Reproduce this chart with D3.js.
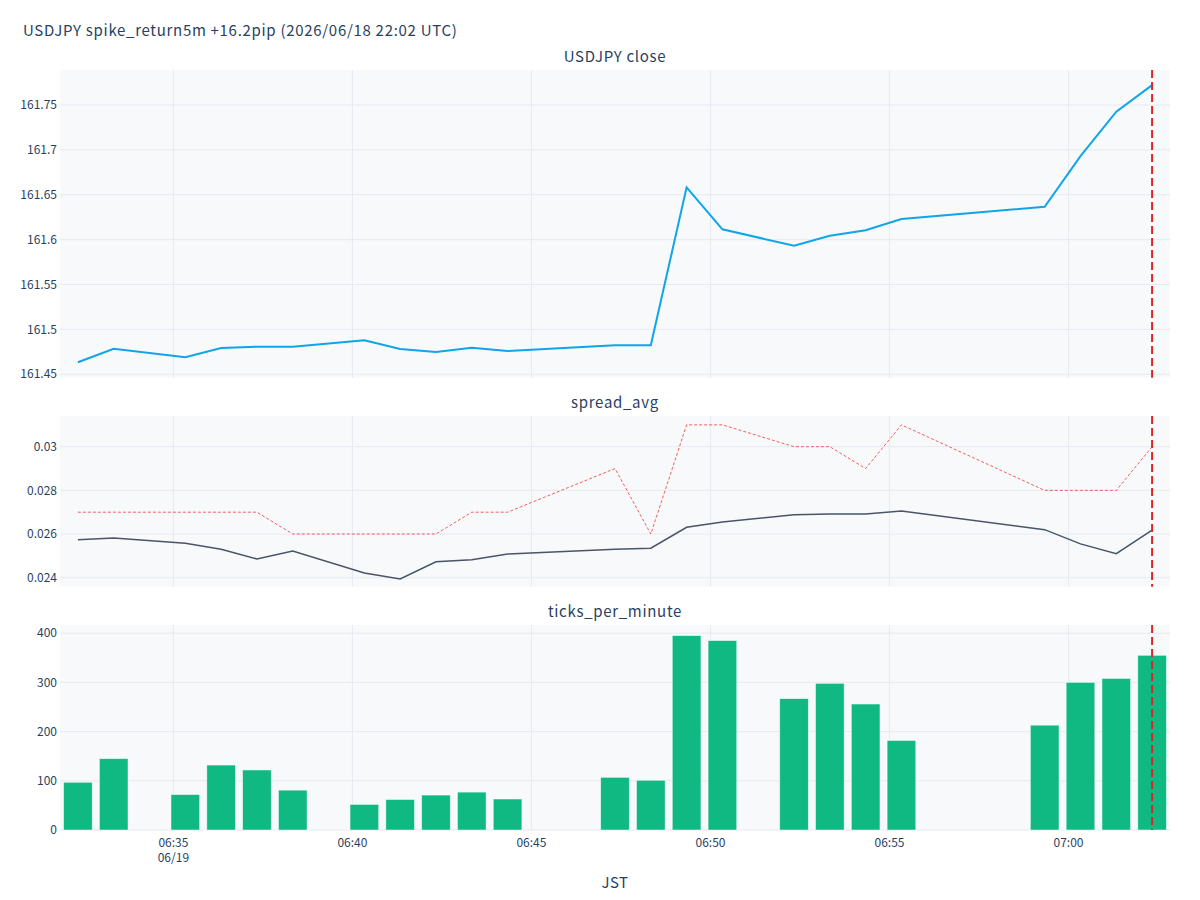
<!DOCTYPE html>
<html>
<head>
<meta charset="utf-8">
<script src="https://cdn.jsdelivr.net/npm/d3@7"></script>
<style>
  body { margin: 0; background: #fff; }
  svg text { font-family: "Noto Sans CJK JP", "Noto Sans", sans-serif; fill: #2a3f5f; }
</style>
</head>
<body>
<div id="chart"></div>
<script>
// minute bars (JST), gaps = minutes without data
var times = ["06:32:20","06:33:20","06:35:20","06:36:20","06:37:20","06:38:20","06:40:20","06:41:20",
  "06:42:20","06:43:20","06:44:20","06:47:20","06:48:20","06:49:20","06:50:20","06:52:20",
  "06:53:20","06:54:20","06:55:20","06:59:20","07:00:20","07:01:20","07:02:20"];
var closes = [161.4634,161.4785,161.4689,161.4793,161.4807,161.4807,161.4879,161.4782,
  161.4748,161.4796,161.476,161.4823,161.4823,161.6583,161.6115,161.5932,
  161.6044,161.6104,161.623,161.6367,161.6931,161.7425,161.7722];
var spreadAvg = [0.02574,0.02582,0.02558,0.0253,0.02486,0.02522,0.02422,0.02394,
  0.02473,0.02482,0.02509,0.0253,0.02535,0.02631,0.02655,0.02688,
  0.02692,0.02692,0.02705,0.0262,0.02555,0.0251,0.02618];
var spreadMax = [0.027,0.027,0.027,0.027,0.027,0.026,0.026,0.026,
  0.026,0.027,0.027,0.029,0.026,0.031,0.031,0.030,
  0.030,0.029,0.031,0.028,0.028,0.028,0.030];
var ticksPerMin = [97,145,72,132,122,81,52,62,
  71,77,63,107,101,395,385,267,
  298,256,182,213,300,308,355];
var eventTime = "07:02:20";
var closeTicks = [161.45,161.5,161.55,161.6,161.65,161.7,161.75];
var spreadTicks = [0.024,0.026,0.028,0.03];
var tickTicks = [0,100,200,300,400];
var xTickTimes = ["06:35","06:40","06:45","06:50","06:55","07:00"];

var width = 1200, height = 900;
var left = 60, right = 1170;
var day = "2026-06-19T";
var parse = function (t) { return new Date(day + (t.length == 5 ? t + ":00" : t)); };
var dates = times.map(parse);

var svg = d3.select("#chart").append("svg")
  .attr("width", width).attr("height", height);

var x = d3.scaleTime()
  .domain([new Date(+dates[0] - 30000), new Date(+dates[dates.length - 1] + 30000)])
  .range([left, right]);
var step = x(new Date(+dates[0] + 60000)) - x(dates[0]);

var panels = [
  {title: "USDJPY close", top: 70, bottom: 377.7, domain: [161.4462, 161.789], ticks: closeTicks},
  {title: "spread_avg", top: 416, bottom: 586.7, domain: [0.023588, 0.031406], ticks: spreadTicks},
  {title: "ticks_per_minute", top: 625, bottom: 830, domain: [0, 416.6], ticks: tickTicks}
];
var fmt = d3.format("~g");

panels.forEach(function (p) {
  p.y = d3.scaleLinear().domain(p.domain).range([p.bottom, p.top]);
  var g = svg.append("g");
  p.g = g;
  g.append("rect").attr("x", left).attr("y", p.top)
    .attr("width", right - left).attr("height", p.bottom - p.top)
    .attr("fill", "#f8f9fa");
  // grid
  g.selectAll(".vg").data(xTickTimes.map(parse)).enter().append("line")
    .attr("x1", d => x(d)).attr("x2", d => x(d))
    .attr("y1", p.top).attr("y2", p.bottom)
    .attr("stroke", "#e6eaf2").attr("stroke-width", 1);
  g.selectAll(".hg").data(p.ticks).enter().append("line")
    .attr("x1", left).attr("x2", right)
    .attr("y1", d => p.y(d)).attr("y2", d => p.y(d))
    .attr("stroke", "#e6eaf2").attr("stroke-width", 1);
  // y labels
  g.selectAll(".yl").data(p.ticks).enter().append("text")
    .attr("x", left - 3).attr("y", d => p.y(d))
    .attr("dy", "0.35em").attr("text-anchor", "end")
    .style("font-size", "12px")
    .text(d => fmt(d));
  svg.append("text").attr("x", (left + right) / 2).attr("y", p.top - 8)
    .attr("text-anchor", "middle").style("font-size", "15px")
    .style("letter-spacing", "0.7px")
    .text(p.title);
});

// close line
var p0 = panels[0];
p0.g.append("path")
  .attr("d", d3.line().x((d, i) => x(dates[i])).y(d => p0.y(d))(closes))
  .attr("fill", "none").attr("stroke", "#0ea5e9").attr("stroke-width", 2);

// spread
var p1 = panels[1];
p1.g.append("path")
  .attr("d", d3.line().x((d, i) => x(dates[i])).y(d => p1.y(d))(spreadMax))
  .attr("fill", "none").attr("stroke", "#ef4444").attr("stroke-opacity", 0.85)
  .attr("stroke-width", 1).attr("stroke-dasharray", "3,2");
p1.g.append("path")
  .attr("d", d3.line().x((d, i) => x(dates[i])).y(d => p1.y(d))(spreadAvg))
  .attr("fill", "none").attr("stroke", "#475569").attr("stroke-width", 1.5);

// ticks bars
var p2 = panels[2];
p2.g.selectAll(".bar").data(ticksPerMin).enter().append("rect")
  .attr("x", (d, i) => x(dates[i]) - step * 0.4)
  .attr("width", step * 0.8)
  .attr("y", d => p2.y(d))
  .attr("height", d => p2.y(0) - p2.y(d))
  .attr("fill", "#10b981")
  .attr("stroke", "#ffffff").attr("stroke-opacity", 0.6).attr("stroke-width", 0.8);

// event line across all panels
var ev = x(parse(eventTime));
panels.forEach(function (p) {
  svg.append("line").attr("x1", ev).attr("x2", ev)
    .attr("y1", p.top).attr("y2", p.bottom)
    .attr("stroke", "#dc2626").attr("stroke-width", 2)
    .attr("stroke-dasharray", "8,4");
});

// x tick labels on bottom panel
var xl = svg.append("g");
xl.selectAll("text").data(xTickTimes).enter().append("text")
  .attr("x", d => x(parse(d))).attr("y", 847)
  .attr("text-anchor", "middle").style("font-size", "12px")
  .text(d => d);
xl.append("text").attr("x", x(parse(xTickTimes[0]))).attr("y", 862)
  .attr("text-anchor", "middle").style("font-size", "12px")
  .text("06/19");

svg.append("text").attr("x", (left + right) / 2).attr("y", 888)
  .attr("text-anchor", "middle").style("font-size", "15px")
  .style("letter-spacing", "0.5px").text("JST");

svg.append("text").attr("x", 23).attr("y", 36)
  .style("font-size", "15px").style("letter-spacing", "0.7px")
  .text("USDJPY spike_return5m +16.2pip (2026/06/18 22:02 UTC)");
</script>
</body>
</html>
